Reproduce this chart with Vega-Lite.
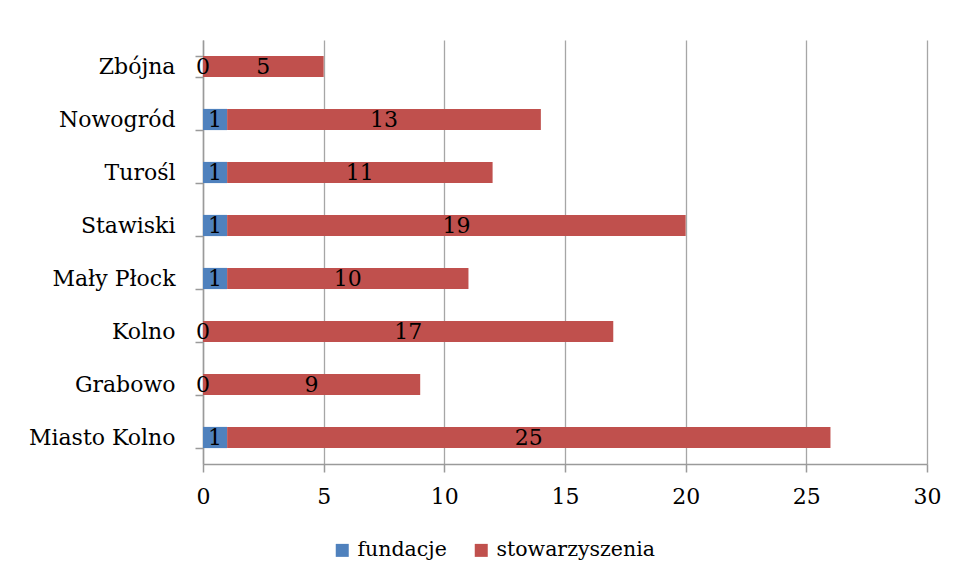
{
  "$schema": "https://vega.github.io/schema/vega-lite/v6.json",
  "autosize": "none",
  "width": 724,
  "height": 424,
  "padding": {"left": 203, "top": 40, "right": 30, "bottom": 117},
  "background": "white",
  "config": {
    "view": {"stroke": null},
    "font": "DejaVu Serif",
    "axis": {"labelFont": "DejaVu Serif", "labelFontSize": 22, "labelColor": "black", "domainColor": "#9a9a9a", "tickColor": "#9a9a9a", "domainWidth": 1.5, "tickWidth": 1.5, "tickSize": 8, "gridColor": "#a6a6a6", "gridWidth": 1.3, "title": null},
    "legend": {"labelFont": "DejaVu Serif", "labelFontSize": 20.5, "labelColor": "black", "labelLimit": 400}
  },
  "data": {
    "values": [
      {"gmina": "Zbójna", "typ": "fundacje", "liczba": 0},
      {"gmina": "Zbójna", "typ": "stowarzyszenia", "liczba": 5},
      {"gmina": "Nowogród", "typ": "fundacje", "liczba": 1},
      {"gmina": "Nowogród", "typ": "stowarzyszenia", "liczba": 13},
      {"gmina": "Turośl", "typ": "fundacje", "liczba": 1},
      {"gmina": "Turośl", "typ": "stowarzyszenia", "liczba": 11},
      {"gmina": "Stawiski", "typ": "fundacje", "liczba": 1},
      {"gmina": "Stawiski", "typ": "stowarzyszenia", "liczba": 19},
      {"gmina": "Mały Płock", "typ": "fundacje", "liczba": 1},
      {"gmina": "Mały Płock", "typ": "stowarzyszenia", "liczba": 10},
      {"gmina": "Kolno", "typ": "fundacje", "liczba": 0},
      {"gmina": "Kolno", "typ": "stowarzyszenia", "liczba": 17},
      {"gmina": "Grabowo", "typ": "fundacje", "liczba": 0},
      {"gmina": "Grabowo", "typ": "stowarzyszenia", "liczba": 9},
      {"gmina": "Miasto Kolno", "typ": "fundacje", "liczba": 1},
      {"gmina": "Miasto Kolno", "typ": "stowarzyszenia", "liczba": 25}
    ]
  },
  "transform": [
    {"stack": "liczba", "groupby": ["gmina"], "sort": [{"field": "typ", "order": "ascending"}], "as": ["x0", "x1"]},
    {"calculate": "(datum.x0 + datum.x1) / 2", "as": "xmid"}
  ],
  "encoding": {
    "y": {
      "field": "gmina", "type": "nominal", "sort": null,
      "scale": {"paddingInner": 0.6, "paddingOuter": 0.3},
      "axis": {"tickBand": "extent", "labelPadding": 20, "grid": false}
    }
  },
  "layer": [
    {
      "mark": {"type": "bar"},
      "encoding": {
        "x": {"field": "x0", "type": "quantitative", "scale": {"domain": [0, 30]},
              "axis": {"values": [0, 5, 10, 15, 20, 25, 30], "grid": true, "labelPadding": 14, "labelFlush": false}},
        "x2": {"field": "x1"},
        "color": {"field": "typ", "type": "nominal",
                  "scale": {"domain": ["fundacje", "stowarzyszenia"], "range": ["#4F81BD", "#C0504D"]},
                  "legend": {"title": null, "orient": "none", "legendX": 129, "legendY": 500, "direction": "horizontal", "symbolType": "square", "symbolSize": 169, "symbolStrokeWidth": 0, "labelOffset": 5, "columnPadding": 24}}
      }
    },
    {
      "mark": {"type": "text", "fontSize": 22, "color": "black", "font": "DejaVu Serif"},
      "encoding": {
        "x": {"field": "xmid", "type": "quantitative"},
        "text": {"field": "liczba", "type": "quantitative"}
      }
    }
  ]
}
